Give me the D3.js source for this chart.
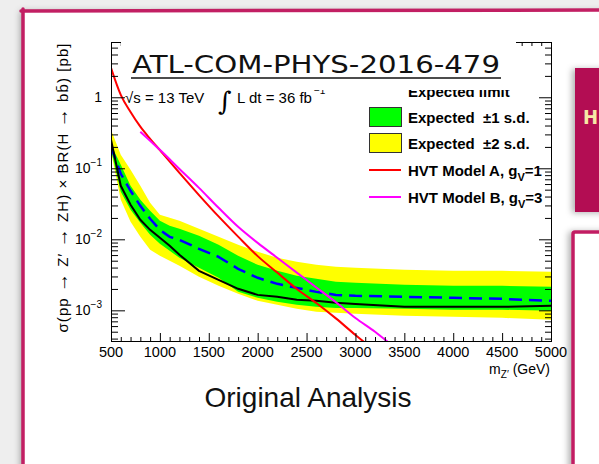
<!DOCTYPE html>
<html>
<head>
<meta charset="utf-8">
<script src="https://cdn.jsdelivr.net/npm/d3@7"></script>
<style>
  html, body { margin: 0; padding: 0; background: #eeeeee; overflow: hidden; }
  svg { display: block; }
</style>
</head>
<body>
<svg id="chart" width="599" height="464"></svg>
<script>
// ---- Limit data: Z' -> ZH -> bb, 95% CL upper limits [pb] ----
const massLimit = [500, 600, 700, 800, 900, 1000, 1100, 1200, 1400, 1600, 1800, 2000, 2200, 2400, 2600, 2800, 3000, 3500, 4000, 4500, 5000];
const obsLimit  = [0.252, 0.0567, 0.0306, 0.01882, 0.0136, 0.0105, 0.0081, 0.00605, 0.0036, 0.00269, 0.00201, 0.00165, 0.00155, 0.00141, 0.00136, 0.00128, 0.00123, 0.00112, 0.00112, 0.00112, 0.00116];
const expLimit  = [0.2008, 0.0837, 0.0482, 0.0296, 0.01944, 0.0136, 0.01084, 0.00984, 0.00735, 0.00567, 0.00384, 0.00287, 0.00236, 0.00207, 0.00182, 0.00165, 0.0016, 0.00155, 0.0015, 0.00145, 0.00136];
const expPlus1  = [0.214, 0.112, 0.0567, 0.036, 0.0252, 0.0182, 0.0155, 0.01405, 0.0112, 0.00837, 0.00585, 0.00437, 0.0036, 0.00306, 0.00278, 0.00252, 0.00244, 0.00229, 0.00221, 0.00221, 0.00214];
const expMinus1 = [0.1822, 0.0467, 0.026, 0.01708, 0.01157, 0.00864, 0.00689, 0.00549, 0.00397, 0.00287, 0.00182, 0.0015, 0.00132, 0.0012, 0.00112, 0.00108, 0.00108, 0.00105, 0.00102, 0.00102, 0.000984];
const expPlus2  = [0.348, 0.155, 0.0953, 0.0567, 0.0327, 0.0221, 0.0201, 0.0182, 0.01405, 0.01084, 0.00837, 0.00667, 0.00549, 0.00482, 0.00437, 0.0041, 0.00397, 0.00372, 0.0036, 0.0036, 0.00349];
const expMinus2 = [0.1708, 0.036, 0.01764, 0.01084, 0.00711, 0.00585, 0.00498, 0.00423, 0.00296, 0.00221, 0.00171, 0.00136, 0.0012, 0.00105, 0.000953, 0.000922, 0.000893, 0.000837, 0.00081, 0.000784, 0.000735];

// ---- HVT benchmark cross sections [pb] ----
const massHVTA = [500, 600, 700, 800, 900, 1000, 1200, 1400, 1600, 1800, 2000, 2200, 2400, 2600, 2800, 3000, 3200];
const xsecHVTA = [2.6, 1.08, 0.62, 0.385, 0.26, 0.18, 0.086, 0.042, 0.021, 0.0109, 0.0058, 0.0034, 0.0020, 0.00127, 0.00077, 0.00045, 0.00027];
const massHVTB = [800, 900, 1000, 1200, 1400, 1600, 1800, 2000, 2200, 2400, 2600, 2800, 3000, 3200, 3400];
const xsecHVTB = [0.327, 0.244, 0.182, 0.098, 0.053, 0.0278, 0.015, 0.0089, 0.0055, 0.0034, 0.0021, 0.0013, 0.00078, 0.0005, 0.0003];

// ---- Axis ticks ----
const xTickLabels = [500, 1000, 1500, 2000, 2500, 3000, 3500, 4000, 4500, 5000];
const yTickValues = [1e-3, 1e-2, 1e-1, 1];
const yTickExponents = ["−3", "−2", "−1", ""];

const W = 599, H = 464;
const SANS = "'Liberation Sans', Arial, Helvetica, sans-serif";
const CRIMSON = "#c21f63";

const svg = d3.select("#chart");
const defs = svg.append("defs");
const shadow = defs.append("filter").attr("id", "shadow")
  .attr("x", "-30%").attr("y", "-30%").attr("width", "160%").attr("height", "160%");
shadow.append("feDropShadow").attr("dx", -3).attr("dy", 1).attr("stdDeviation", 3)
  .attr("flood-color", "#000").attr("flood-opacity", 0.3);

// slide background and card
svg.append("rect").attr("width", W).attr("height", H).attr("fill", "#eeeeee");
svg.append("rect").attr("x", 23).attr("y", 10).attr("width", 700).attr("height", 520)
  .attr("fill", "#ffffff").attr("filter", "url(#shadow)");
svg.append("path")
  .attr("d", "M21,11 C120,10 300,11 640,10 M23,9 C24,120 22,300 23,520")
  .attr("fill", "none").attr("stroke", CRIMSON).attr("stroke-width", 3.5).attr("stroke-linecap", "round");

// ---- Plot frame and scales ----
const X0 = 111, X1 = 551, Y0 = 42, Y1 = 341;
const x = d3.scaleLinear().domain([500, 5000]).range([X0, X1]);
const y = d3.scaleLog().domain([3.7e-4, 6]).range([Y1, Y0]);

defs.append("clipPath").attr("id", "frame")
  .append("rect").attr("x", X0).attr("y", Y0).attr("width", X1 - X0).attr("height", Y1 - Y0);

const plot = svg.append("g").attr("clip-path", "url(#frame)");

const band = (lo, hi) => d3.area()
  .x((d, i) => x(massLimit[i]))
  .y0((d, i) => y(lo[i]))
  .y1((d, i) => y(hi[i]));

plot.append("path").datum(massLimit).attr("d", band(expMinus2, expPlus2)).attr("fill", "#ffff00");
plot.append("path").datum(massLimit).attr("d", band(expMinus1, expPlus1)).attr("fill", "#00ff00");

const limitLine = (vals) => d3.line().x((d, i) => x(massLimit[i])).y((d, i) => y(vals[i]));
plot.append("path").datum(massLimit).attr("d", limitLine(expLimit))
  .attr("fill", "none").attr("stroke", "#0000ff").attr("stroke-width", 2.5).attr("stroke-dasharray", "13,7");
plot.append("path").datum(massLimit).attr("d", limitLine(obsLimit))
  .attr("fill", "none").attr("stroke", "#000").attr("stroke-width", 2);

const theory = d3.line().curve(d3.curveMonotoneX).x(d => x(d[0])).y(d => y(d[1]));
plot.append("path").datum(d3.zip(massHVTA, xsecHVTA)).attr("d", theory)
  .attr("fill", "none").attr("stroke", "#ff0000").attr("stroke-width", 2);
plot.append("path").datum(d3.zip(massHVTB, xsecHVTB)).attr("d", theory)
  .attr("fill", "none").attr("stroke", "#ff00ff").attr("stroke-width", 2);

// ---- Axes (ticks on all four sides, pointing inward) ----
const xMinor = d3.range(500, 5001, 100).filter(v => v % 500 !== 0);
const yMinor = [];
[1e-4, 1e-3, 1e-2, 1e-1, 1].forEach(dec => {
  for (let k = 2; k <= 9; k++) {
    const v = k * dec;
    if (v >= 3.7e-4 && v <= 6) yMinor.push(v);
  }
});

function tickAxis(axis, tx, ty) {
  const g = svg.append("g").attr("transform", `translate(${tx},${ty})`).attr("color", "#000").call(axis);
  g.select(".domain").remove();
  g.selectAll("text").remove();
  return g;
}
tickAxis(d3.axisBottom(x).tickValues(xTickLabels).tickSize(-8), 0, Y1);
tickAxis(d3.axisBottom(x).tickValues(xMinor).tickSize(-4), 0, Y1);
tickAxis(d3.axisTop(x).tickValues(xTickLabels).tickSize(-8), 0, Y0);
tickAxis(d3.axisTop(x).tickValues(xMinor).tickSize(-4), 0, Y0);
tickAxis(d3.axisLeft(y).tickValues(yTickValues).tickSize(-14), X0, 0);
tickAxis(d3.axisLeft(y).tickValues(yMinor).tickSize(-7), X0, 0);
tickAxis(d3.axisRight(y).tickValues(yTickValues).tickSize(-12), X1, 0);
tickAxis(d3.axisRight(y).tickValues(yMinor).tickSize(-6), X1, 0);

svg.append("rect").attr("x", X0 + 0.5).attr("y", Y0 + 0.5).attr("width", X1 - X0).attr("height", Y1 - Y0)
  .attr("fill", "none").attr("stroke", "#000").attr("stroke-width", 1);

// x tick labels
svg.append("g").selectAll("text").data(xTickLabels).join("text")
  .attr("x", d => x(d)).attr("y", Y1 + 16)
  .attr("text-anchor", "middle").attr("font-family", SANS).attr("font-size", 14.5).attr("fill", "#000")
  .text(d => d);

// y tick labels (powers of ten)
const yl = svg.append("g").attr("font-family", SANS).attr("fill", "#000");
yTickValues.forEach((v, i) => {
  const t = yl.append("text").attr("x", 102).attr("y", y(v) + 5).attr("text-anchor", "end").attr("font-size", 14);
  if (yTickExponents[i] === "") {
    t.text("1");
  } else {
    t.append("tspan").text("10");
    t.append("tspan").attr("dy", -7).attr("font-size", 10).text(yTickExponents[i]);
  }
});

// axis titles
const xt = svg.append("text").attr("x", 550).attr("y", 374).attr("text-anchor", "end")
  .attr("font-family", SANS).attr("font-size", 14).attr("fill", "#000");
xt.append("tspan").text("m");
xt.append("tspan").attr("dy", 4).attr("font-size", 10).text("Z′");
xt.append("tspan").attr("dy", -4).text(" (GeV)");

const yTitleParts = [["σ(pp ", false], ["→", true], [" Z′ ", false], ["→", true], [" ZH) × BR(H ", false], ["→", true], [" bb̄) [pb]", false]];
const yt = svg.append("text").attr("transform", "translate(68,188) rotate(-90)")
  .attr("text-anchor", "middle").attr("font-family", SANS).attr("font-size", 15).attr("fill", "#000")
  .attr("xml:space", "preserve")
  .attr("textLength", 289).attr("lengthAdjust", "spacing");
yTitleParts.forEach(([s, arrow]) => {
  const ts = yt.append("tspan").text(s);
  if (arrow) ts.attr("font-size", 19);
});

// energy and luminosity
svg.append("text").attr("x", 125).attr("y", 103).attr("font-family", SANS).attr("font-size", 15).attr("fill", "#000")
  .text("√s = 13 TeV");
svg.append("text").attr("x", 218).attr("y", 110).attr("font-family", "'DejaVu Serif', serif").attr("font-size", 26).attr("fill", "#000")
  .text("∫");
const lumi = svg.append("text").attr("x", 237).attr("y", 103).attr("font-family", SANS).attr("font-size", 15).attr("fill", "#000");
lumi.append("tspan").text("L dt = 36 fb");
lumi.append("tspan").attr("dx", 2).attr("dy", -9).attr("font-size", 10).text("−1");

// ---- Legend ----
const LX = 369, LW = 32, TX = 408;
const leg = svg.append("g").attr("font-family", SANS).attr("font-weight", "bold").attr("font-size", 15).attr("fill", "#000");
leg.append("line").attr("x1", LX).attr("x2", LX + LW).attr("y1", 88).attr("y2", 88)
  .attr("stroke", "#0000ff").attr("stroke-width", 2.5).attr("stroke-dasharray", "8,4");
leg.append("text").attr("x", TX).attr("y", 96.5).text("Expected limit");
leg.append("rect").attr("x", LX + 0.5).attr("y", 107.5).attr("width", LW).attr("height", 19)
  .attr("fill", "#00ff00").attr("stroke", "#333").attr("stroke-width", 1);
leg.append("text").attr("x", TX).attr("y", 123).attr("xml:space", "preserve").text("Expected  ±1 s.d.");
leg.append("rect").attr("x", LX + 0.5).attr("y", 133.5).attr("width", LW).attr("height", 19)
  .attr("fill", "#ffff00").attr("stroke", "#333").attr("stroke-width", 1);
leg.append("text").attr("x", TX).attr("y", 149).attr("xml:space", "preserve").text("Expected  ±2 s.d.");
leg.append("line").attr("x1", LX).attr("x2", LX + LW).attr("y1", 170).attr("y2", 170)
  .attr("stroke", "#ff0000").attr("stroke-width", 2);
const la = leg.append("text").attr("x", TX).attr("y", 176);
la.append("tspan").text("HVT Model A, g");
la.append("tspan").attr("dy", 5).attr("font-size", 11).text("V");
la.append("tspan").attr("dy", -5).text("=1");
leg.append("line").attr("x1", LX).attr("x2", LX + LW).attr("y1", 197).attr("y2", 197)
  .attr("stroke", "#ff00ff").attr("stroke-width", 2);
const lb = leg.append("text").attr("x", TX).attr("y", 203);
lb.append("tspan").text("HVT Model B, g");
lb.append("tspan").attr("dy", 5).attr("font-size", 11).text("V");
lb.append("tspan").attr("dy", -5).text("=3");

// ---- Note label placed over the top of the frame ----
svg.append("rect").attr("x", 121).attr("y", 28).attr("width", 395).attr("height", 62).attr("fill", "#ffffff");
svg.append("text").attr("x", 132).attr("y", 73)
  .attr("font-family", "'DejaVu Sans', sans-serif").attr("font-size", 25).attr("fill", "#111")
  .attr("textLength", 368).attr("lengthAdjust", "spacingAndGlyphs")
  .text("ATL-COM-PHYS-2016-479");
svg.append("line").attr("x1", 131).attr("x2", 501).attr("y1", 78).attr("y2", 78)
  .attr("stroke", "#111").attr("stroke-width", 1.5);

// caption under the plot
svg.append("text").attr("x", 308).attr("y", 407).attr("text-anchor", "middle")
  .attr("font-family", SANS).attr("font-size", 28).attr("fill", "#111")
  .text("Original Analysis");

// ---- Neighbouring slide elements on the right ----
svg.append("rect").attr("x", 575).attr("y", 68).attr("width", 60).attr("height", 144)
  .attr("fill", "#b30b52").attr("filter", "url(#shadow)");
svg.append("text").attr("x", 583).attr("y", 124)
  .attr("font-family", "'DejaVu Sans Condensed', 'DejaVu Sans', sans-serif").attr("font-weight", "bold").attr("font-size", 20).attr("fill", "#f6e9a6")
  .text("H");
svg.append("rect").attr("x", 573).attr("y", 232).attr("width", 80).attr("height", 280)
  .attr("fill", "#ffffff").attr("stroke", CRIMSON).attr("stroke-width", 3.5).attr("rx", 2)
  .attr("filter", "url(#shadow)");
</script>
</body>
</html>
